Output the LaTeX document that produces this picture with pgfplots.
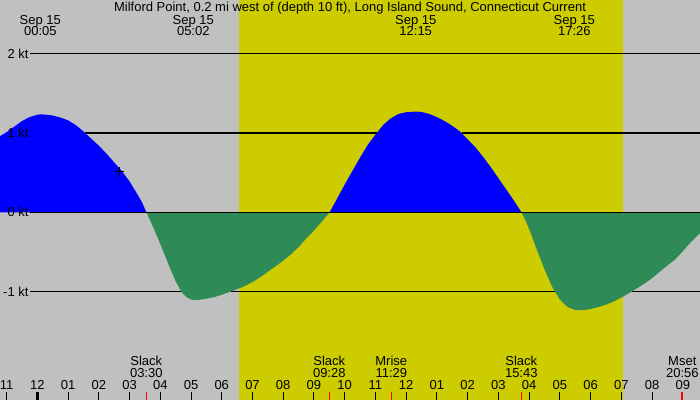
\documentclass[border=0pt]{standalone}
\usepackage{fontspec}
\setmainfont{Liberation Sans}
\usepackage{pgfplots}
\pgfplotsset{compat=1.18}
\definecolor{bggray}{RGB}{192,192,192}
\definecolor{dayyellow}{RGB}{204,204,0}
\definecolor{floodblue}{RGB}{0,0,255}
\definecolor{ebbgreen}{RGB}{46,139,87}
\newcommand\f{\fontsize{13pt}{15pt}\selectfont}
\tikzset{lbl/.style={font=\f, inner sep=0pt, anchor=base},
         ktl/.style={font=\f, inner sep=0pt, anchor=east}}
\begin{document}
\begin{tikzpicture}
\begin{axis}[
  scale only axis, width=700pt, height=400pt,
  xmin=-1.2134, xmax=21.558, ymin=-2.367, ymax=2.677,
  axis line style={draw=none},
  axis background/.style={fill=bggray},
  xtick=\empty, ytick=\empty,
]
% daylight
\addplot[fill=dayyellow, draw=none] coordinates {(6.561,-2.367) (6.561,2.677) (19.063,2.677) (19.063,-2.367)} -- cycle;

% flood
\addplot[fill=floodblue, draw=none] coordinates {
  (-1.2134,0.96) (-1.0,1.01) (-0.75,1.08) (-0.5,1.15) (-0.25,1.20) (0,1.23)
  (0.1,1.235) (0.25,1.232) (0.5,1.22) (0.75,1.195) (1.0,1.16) (1.25,1.10)
  (1.5,1.02) (1.75,0.93) (2.0,0.84) (2.25,0.74) (2.5,0.63) (2.75,0.52)
  (3.0,0.39) (3.25,0.23) (3.4,0.13) (3.55,0) (-1.2134,0)
} -- cycle;
% ebb
\addplot[fill=ebbgreen, draw=none] coordinates {
  (3.55,0) (3.75,-0.17) (4.0,-0.40) (4.25,-0.64) (4.5,-0.87) (4.7,-1.01)
  (4.85,-1.07) (5.0,-1.10) (5.1,-1.107) (5.25,-1.105) (5.5,-1.09) (5.75,-1.07)
  (6.0,-1.04) (6.25,-1.005) (6.5,-0.97) (6.75,-0.93) (7.0,-0.88) (7.25,-0.82)
  (7.5,-0.75) (7.75,-0.68) (8.0,-0.61) (8.25,-0.53) (8.5,-0.44) (8.75,-0.33)
  (9.0,-0.23) (9.25,-0.12) (9.51,0)
} -- cycle;
% flood
\addplot[fill=floodblue, draw=none] coordinates {
  (9.51,0) (9.75,0.17) (10.0,0.35) (10.25,0.52) (10.5,0.69) (10.75,0.85)
  (11.0,0.98) (11.25,1.10) (11.5,1.185) (11.75,1.24) (12.0,1.262) (12.3,1.27)
  (12.5,1.265) (12.75,1.24) (13.0,1.20) (13.25,1.15) (13.5,1.09) (13.75,1.02)
  (14.0,0.92) (14.25,0.82) (14.5,0.70) (14.75,0.57) (15.0,0.43) (15.25,0.29)
  (15.5,0.15) (15.75,0)
} -- cycle;
% ebb
\addplot[fill=ebbgreen, draw=none] coordinates {
  (15.75,0) (15.9,-0.12) (16.0,-0.21) (16.25,-0.47) (16.5,-0.72) (16.75,-0.94)
  (17.0,-1.10) (17.25,-1.195) (17.5,-1.232) (17.75,-1.235) (18.0,-1.22)
  (18.25,-1.195) (18.5,-1.165) (18.75,-1.125) (19.0,-1.075) (19.25,-1.02)
  (19.5,-0.96) (19.75,-0.90) (20.0,-0.83) (20.25,-0.75) (20.5,-0.67)
  (20.75,-0.595) (21.0,-0.49) (21.25,-0.38) (21.558,-0.265) (21.558,0)
} -- cycle;

% kt lines, only where the current areas leave them visible
\addplot[black, line width=1.2pt] coordinates {(-0.2375,2) (21.558,2)};
\addplot[black, line width=1.2pt] coordinates {(1.556,1) (11.042,1)};
\addplot[black, line width=1.2pt] coordinates {(13.80,1) (21.558,1)};
\addplot[black, line width=1.2pt] coordinates {(-0.2375,-1) (4.686,-1)};
\addplot[black, line width=1.2pt] coordinates {(6.286,-1) (16.844,-1)};
\addplot[black, line width=1.2pt] coordinates {(19.333,-1) (21.558,-1)};
\addplot[black, line width=1.2pt] coordinates {(-0.2375,0) (21.558,0)};

% current time marker
\addplot[only marks, mark=+, mark size=4.5pt, black, line width=1pt] coordinates {(2.658,0.512)};

% kt labels
\node[ktl] at (axis cs:-0.28,2) {2 kt};
\node[ktl] at (axis cs:-0.28,1) {1 kt};
\node[ktl] at (axis cs:-0.28,0) {0 kt};
\node[ktl] at (axis cs:-0.28,-1) {-1 kt};

% title and extremes
\node[lbl] at (axis cs:10.173,2.526) {Milford Point, 0.2 mi west of (depth 10 ft), Long Island Sound, Connecticut Current};
\node[lbl] at (axis cs:0.098,2.374) {Sep 15};
\node[lbl] at (axis cs:0.098,2.223) {00:05};
\node[lbl] at (axis cs:5.075,2.374) {Sep 15};
\node[lbl] at (axis cs:5.075,2.223) {05:02};
\node[lbl] at (axis cs:12.31,2.374) {Sep 15};
\node[lbl] at (axis cs:12.31,2.223) {12:15};
\node[lbl] at (axis cs:17.47,2.374) {Sep 15};
\node[lbl] at (axis cs:17.47,2.223) {17:26};

% events
\node[lbl] at (axis cs:3.546,-1.938) {Slack};
\node[lbl] at (axis cs:3.546,-2.086) {03:30};
\node[lbl] at (axis cs:9.499,-1.938) {Slack};
\node[lbl] at (axis cs:9.499,-2.086) {09:28};
\node[lbl] at (axis cs:11.516,-1.938) {Mrise};
\node[lbl] at (axis cs:11.516,-2.086) {11:29};
\node[lbl] at (axis cs:15.745,-1.938) {Slack};
\node[lbl] at (axis cs:15.745,-2.086) {15:43};
\node[lbl] at (axis cs:20.983,-1.938) {Mset};
\node[lbl] at (axis cs:20.983,-2.086) {20:56};

% hour ticks
\foreach \h/\l in {-1/11,0/12,1/01,2/02,3/03,4/04,5/05,6/06,7/07,8/08,9/09,10/10,
                   11/11,12/12,13/01,14/02,15/03,16/04,17/05,18/06,19/07,20/08,21/09} {
  \edef\tmp{\noexpand\node[lbl] at (axis cs:\h,-2.232) {\l};
            \noexpand\draw[black, line width=1pt] (axis cs:\h,-2.367) -- (axis cs:\h,-2.262);}
  \tmp
}
\draw[black, line width=3pt] (axis cs:0,-2.367) -- (axis cs:0,-2.262);
\draw[red, line width=1pt] (axis cs:3.546,-2.367) -- (axis cs:3.546,-2.262);
\draw[red, line width=1pt] (axis cs:9.499,-2.367) -- (axis cs:9.499,-2.262);
\draw[red, line width=1pt] (axis cs:11.516,-2.367) -- (axis cs:11.516,-2.262);
\draw[red, line width=1pt] (axis cs:15.745,-2.367) -- (axis cs:15.745,-2.262);
\draw[red, line width=2pt] (axis cs:20.983,-2.367) -- (axis cs:20.983,-2.262);
\end{axis}
\pgfresetboundingbox
\useasboundingbox (current axis.south west) rectangle (current axis.north east);
\end{tikzpicture}
\end{document}
